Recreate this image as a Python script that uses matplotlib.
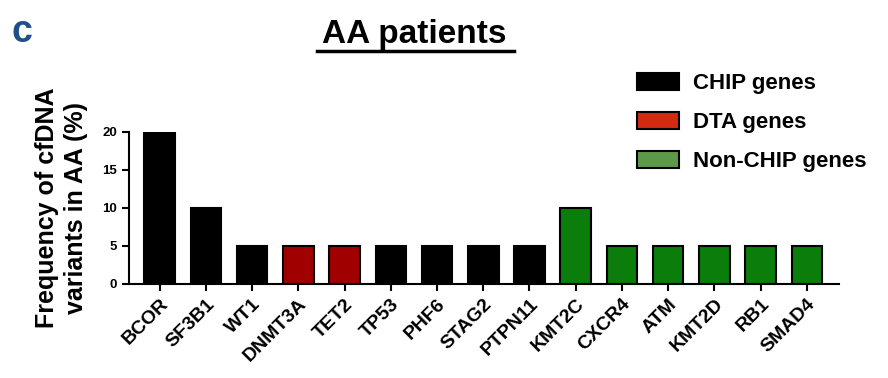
import matplotlib.pyplot as plt
from matplotlib.patches import Patch
from matplotlib.lines import Line2D

plt.rcParams['font.family'] = ['Liberation Sans', 'DejaVu Sans']
plt.rcParams['font.weight'] = 'bold'

genes = ['BCOR', 'SF3B1', 'WT1', 'DNMT3A', 'TET2', 'TP53', 'PHF6', 'STAG2',
         'PTPN11', 'KMT2C', 'CXCR4', 'ATM', 'KMT2D', 'RB1', 'SMAD4']
freq = [20, 10, 5, 5, 5, 5, 5, 5, 5, 10, 5, 5, 5, 5, 5]
group = ['chip'] * 3 + ['dta'] * 2 + ['chip'] * 4 + ['non'] * 6

bar_col = {'chip': 'black', 'dta': '#a00000', 'non': '#0a7d0a'}
legend_col = {'chip': 'black', 'dta': '#d42a12', 'non': '#5c9a4a'}
legend_txt = {'chip': 'CHIP genes', 'dta': 'DTA genes', 'non': 'Non-CHIP genes'}

fig = plt.figure(figsize=(8.88, 3.78), dpi=100)
ax = fig.add_axes([0.145, 0.249, 0.80, 0.402])

x = range(len(genes))
ax.bar(x, freq, width=0.66, color=[bar_col[g] for g in group],
       edgecolor='black', linewidth=1.5)

ax.set_xlim(-0.67, 14.7)
ax.set_ylim(0, 20)
ax.set_yticks([0, 5, 10, 15, 20])
ax.set_xticks(list(x))
ax.set_xticklabels(genes, rotation=45, ha='right', rotation_mode='anchor',
                   fontsize=14, fontweight='bold')
ax.tick_params(axis='y', labelsize=9.5, width=1.5, length=5)
ax.tick_params(axis='x', width=1.5, length=5)
for s in ['top', 'right']:
    ax.spines[s].set_visible(False)
for s in ['left', 'bottom']:
    ax.spines[s].set_linewidth(1.5)

ax.set_ylabel('Frequency of cfDNA\nvariants in AA (%)', fontsize=18,
              fontweight='bold', labelpad=10, linespacing=1.3)

fig.text(0.467, 0.91, 'AA patients', ha='center', va='center',
         fontsize=24, fontweight='bold')
fig.add_artist(Line2D([0.357, 0.579], [0.866, 0.866], color='black',
                      linewidth=2.5, transform=fig.transFigure))
fig.text(0.013, 0.915, 'c', fontsize=27, fontweight='bold', color='#1f4e8c',
         va='center')

handles = [Patch(facecolor=legend_col[k], edgecolor='black', linewidth=1.5,
                 label=legend_txt[k]) for k in ['chip', 'dta', 'non']]
fig.legend(handles=handles, loc='upper left', bbox_to_anchor=(0.707, 0.83),
           frameon=False, fontsize=16, handlelength=1.9, handleheight=0.8,
           labelspacing=0.8, handletextpad=0.65, borderaxespad=0)

fig.savefig('out.png', dpi=100)
